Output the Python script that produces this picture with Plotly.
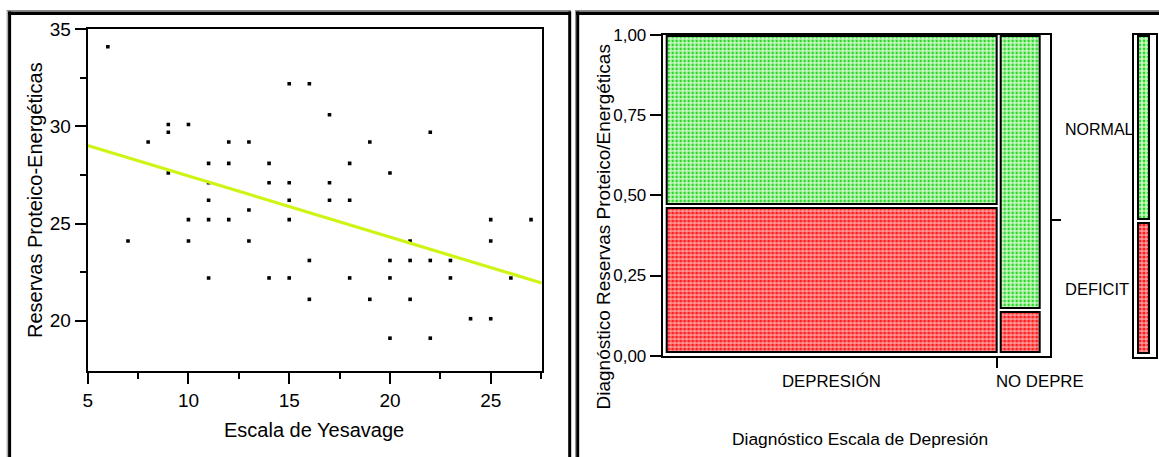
import plotly.graph_objects as go

W, H = 1159, 457
FONT = "Liberation Sans, Arial, sans-serif"

# ---------------- data: scatter (left) ----------------
yesavage = [6, 7, 8, 9, 9, 9, 10, 10, 10, 11, 11, 11, 11, 11, 12, 12, 12, 13, 13, 13,
            14, 14, 14, 15, 15, 15, 15, 15, 16, 16, 16, 17, 17, 17, 18, 18, 18, 19, 19,
            20, 20, 20, 20, 21, 21, 21, 22, 22, 22, 23, 23, 24, 25, 25, 25, 26, 27]
reservas = [34.1, 24.1, 29.2, 30.1, 29.7, 27.6, 30.1, 25.2, 24.1, 28.1, 27.1, 26.2, 25.2, 22.2,
            29.2, 28.1, 25.2, 29.2, 25.7, 24.1, 28.1, 27.1, 22.2, 32.2, 27.1, 26.2, 25.2, 22.2,
            32.2, 23.1, 21.1, 30.6, 27.1, 26.2, 28.1, 26.2, 22.2, 29.2, 21.1, 27.6, 23.1, 22.2,
            19.1, 24.1, 23.1, 21.1, 29.7, 23.1, 19.1, 23.1, 22.2, 20.1, 25.2, 24.1, 20.1, 22.2, 25.2]
fit_x = [5.0, 27.53]
fit_y = [29.02, 21.94]
x_ticks = [5, 10, 15, 20, 25]
y_ticks = [20, 25, 30, 35]

# ---------------- data: mosaic (right) ----------------
categories = ["DEPRESIÓN", "NO DEPRE"]
col_share = [0.895, 0.105]          # share of subjects per depression category
deficit_share = [0.46, 0.128]       # share DEFICIT within each category
overall_deficit = 0.415             # marginal share DEFICIT
row_labels = ["NORMAL", "DEFICIT"]
mosaic_y_ticks = [0, 0.25, 0.5, 0.75, 1.0]

# ---------------- helpers ----------------
def px(x):
    return x / W

def py(y):
    return 1 - y / H

# layout constants for mosaic
XG = 0.0103          # horizontal gap
YB, YT, YG = 0.0125, 0.997, 0.013
usable_w = 1 - 3 * XG - 0.0173

lefts, widths = [], []
cur = XG
for s in col_share:
    w = s * usable_w
    lefts.append(cur)
    widths.append(w)
    cur += w + XG
centers = [l + w / 2 for l, w in zip(lefts, widths)]

def split(p):
    avail = YT - YB - YG
    red_h = p * avail
    return (YB, red_h), (YB + red_h + YG, YT - (YB + red_h + YG))

red_base, red_h, grn_base, grn_h = [], [], [], []
for p in deficit_share:
    (rb, rh), (gb, gh) = split(p)
    red_base.append(rb); red_h.append(rh); grn_base.append(gb); grn_h.append(gh)

(m_rb, m_rh), (m_gb, m_gh) = split(overall_deficit)
boundary = m_rb + m_rh + YG / 2
sep_x = lefts[1] - XG / 2 - 0.003

GREEN_PAT = dict(shape=".", fgcolor="#30d830", bgcolor="#cdf7c6", size=4, solidity=0.38)
RED_PAT = dict(shape=".", fgcolor="#ff1f1f", bgcolor="#ff9c9c", size=4, solidity=0.5)

fig = go.Figure()

# scatter
fig.add_trace(go.Scatter(x=yesavage, y=reservas, mode="markers",
                         marker=dict(symbol="square", size=3.6, color="black"),
                         xaxis="x", yaxis="y", showlegend=False))
fig.add_trace(go.Scatter(x=fit_x, y=fit_y, mode="lines",
                         line=dict(color="#cdf514", width=3.2),
                         xaxis="x", yaxis="y", showlegend=False))

# mosaic cells
fig.add_trace(go.Bar(x=centers, y=red_h, base=red_base, width=widths,
                     marker=dict(color="#ff9c9c", pattern=RED_PAT,
                                 line=dict(color="black", width=2)),
                     xaxis="x2", yaxis="y2", showlegend=False))
fig.add_trace(go.Bar(x=centers, y=grn_h, base=grn_base, width=widths,
                     marker=dict(color="#cdf7c6", pattern=GREEN_PAT,
                                 line=dict(color="black", width=2)),
                     xaxis="x2", yaxis="y2", showlegend=False))

# marginal bar
fig.add_trace(go.Bar(x=[0.418], y=[m_rh], base=[m_rb], width=[0.5],
                     marker=dict(color="#ff9c9c", pattern=RED_PAT,
                                 line=dict(color="black", width=2)),
                     xaxis="x3", yaxis="y3", showlegend=False))
fig.add_trace(go.Bar(x=[0.418], y=[m_gh], base=[m_gb], width=[0.5],
                     marker=dict(color="#cdf7c6", pattern=GREEN_PAT,
                                 line=dict(color="black", width=2)),
                     xaxis="x3", yaxis="y3", showlegend=False))

# dummy trace to activate yaxis4 (right-hand tick)
fig.add_trace(go.Scatter(x=[None], y=[None], xaxis="x2", yaxis="y4", showlegend=False))

tickfont_l = dict(family=FONT, size=19, color="black")
tickfont_r = dict(family=FONT, size=17, color="black")

fig.update_layout(
    template="none",
    width=W, height=H,
    margin=dict(l=0, r=0, t=0, b=0, pad=0, autoexpand=False),
    paper_bgcolor="white", plot_bgcolor="white",
    separators=",.",
    barmode="overlay",
    bargap=0,
    hovermode=False,
    xaxis=dict(domain=[px(87.7), px(541.7)], range=[5, 27.53], anchor="y", automargin=False,
               tickvals=x_ticks, ticks="outside", ticklen=11, tickwidth=2, tickcolor="black",
               minor=dict(ticks="outside", ticklen=6, tickwidth=2, tickcolor="black",
                          tickvals=[7.5, 12.5, 17.5, 22.5, 27.5]),
               showline=True, linewidth=2, linecolor="black", mirror=True,
               showgrid=False, zeroline=False, tickfont=tickfont_l),
    yaxis=dict(domain=[py(371), py(29.3)], range=[17.41, 35], anchor="x", automargin=False,
               tickvals=y_ticks, ticks="outside", ticklen=11, tickwidth=2, tickcolor="black",
               minor=dict(ticks="outside", ticklen=6, tickwidth=2, tickcolor="black",
                          tickvals=[22.5, 27.5, 32.5]),
               showline=True, linewidth=2, linecolor="black", mirror=True,
               showgrid=False, zeroline=False, tickfont=tickfont_l),
    xaxis2=dict(domain=[px(662.7), px(1050)], range=[0, 1], anchor="y2", automargin=False,
                tickvals=[sep_x], ticktext=[""], ticks="outside",
                ticklen=10, tickwidth=1.5, tickcolor="black",
                showline=True, linewidth=2, linecolor="black", mirror=True,
                showgrid=False, zeroline=False),
    yaxis2=dict(domain=[py(355.7), py(35)], range=[0, 1], anchor="x2", automargin=False,
                tickvals=mosaic_y_ticks, tickformat=".2f", ticks="outside", ticklen=11,
                tickwidth=2, tickcolor="black",
                showline=True, linewidth=2, linecolor="black", mirror=True,
                showgrid=False, zeroline=False, tickfont=tickfont_r),
    yaxis4=dict(overlaying="y2", side="right", anchor="x2", range=[0, 1], automargin=False,
                tickvals=[boundary], ticktext=[""], ticks="outside", ticklen=10,
                tickwidth=2, tickcolor="black", showline=False, showgrid=False,
                zeroline=False),
    xaxis3=dict(domain=[px(1134), px(1156)], range=[0, 1], anchor="y3", automargin=False,
                showticklabels=False, ticks="", showline=True, linewidth=2,
                linecolor="black", mirror=True, showgrid=False, zeroline=False),
    yaxis3=dict(domain=[py(356.7), py(35)], range=[0, 1], anchor="x3", automargin=False,
                showticklabels=False, ticks="", showline=True, linewidth=2,
                linecolor="black", mirror=True, showgrid=False, zeroline=False),
)

def txt(text, x, y, size, xref="paper", yref="paper", xanchor="center", angle=0, **kw):
    d = dict(text=text, x=x, y=y, xref=xref, yref=yref, xanchor=xanchor, yanchor="middle",
             textangle=angle, showarrow=False,
             font=dict(family=FONT, size=size, color="black"))
    d.update(kw)
    return d

ann = [
    txt("Escala de Yesavage", px(314), py(430), 20),
    txt("Reservas Proteico-Energéticas", px(35), py(200), 20, angle=-90),
    txt("Diagnóstico Escala de Depresión", px(860), py(438.5), 17.4),
    txt("Diagnóstico Reservas Proteico/Energéticas", px(603), py(226.5), 19, angle=-90),
    txt(categories[0], centers[0], py(381.7), 16.8, xref="x2"),
    txt(categories[1], sep_x, py(381.7), 16.8, xref="x2", xanchor="left", xshift=-3),
    txt(row_labels[0], px(1063), m_gb + m_gh / 2, 16, yref="y2", xanchor="left", yshift=-2),
    txt(row_labels[1], px(1063), m_rb + m_rh / 2, 16.5, yref="y2", xanchor="left", yshift=-2),
]
fig.update_layout(annotations=ann)

# panel frames (decoration)
shapes = []
def line(x0, y0, x1, y1, color, width):
    shapes.append(dict(type="line", xref="paper", yref="paper",
                       x0=px(x0), y0=py(y0), x1=px(x1), y1=py(y1),
                       line=dict(color=color, width=width)))

line(6.7, 10.5, 571, 10.5, "#8a8a8a", 1)
line(7.2, 10, 7.2, 470, "#8a8a8a", 1)
line(8, 13.3, 571, 13.3, "black", 3.5)
line(9.6, 11.5, 9.6, 470, "black", 3)
line(569.7, 11.5, 569.7, 470, "black", 3)
line(575, 10.5, 1159, 10.5, "#8a8a8a", 1)
line(575.6, 10, 575.6, 470, "#8a8a8a", 1)
line(576, 13.3, 1159, 13.3, "black", 3.5)
line(577.7, 11.5, 577.7, 470, "black", 3)
fig.update_layout(shapes=shapes)

fig.write_html("out.html", config={"displayModeBar": False},
               post_script="document.body.style.margin='0';document.body.style.overflow='hidden';")
